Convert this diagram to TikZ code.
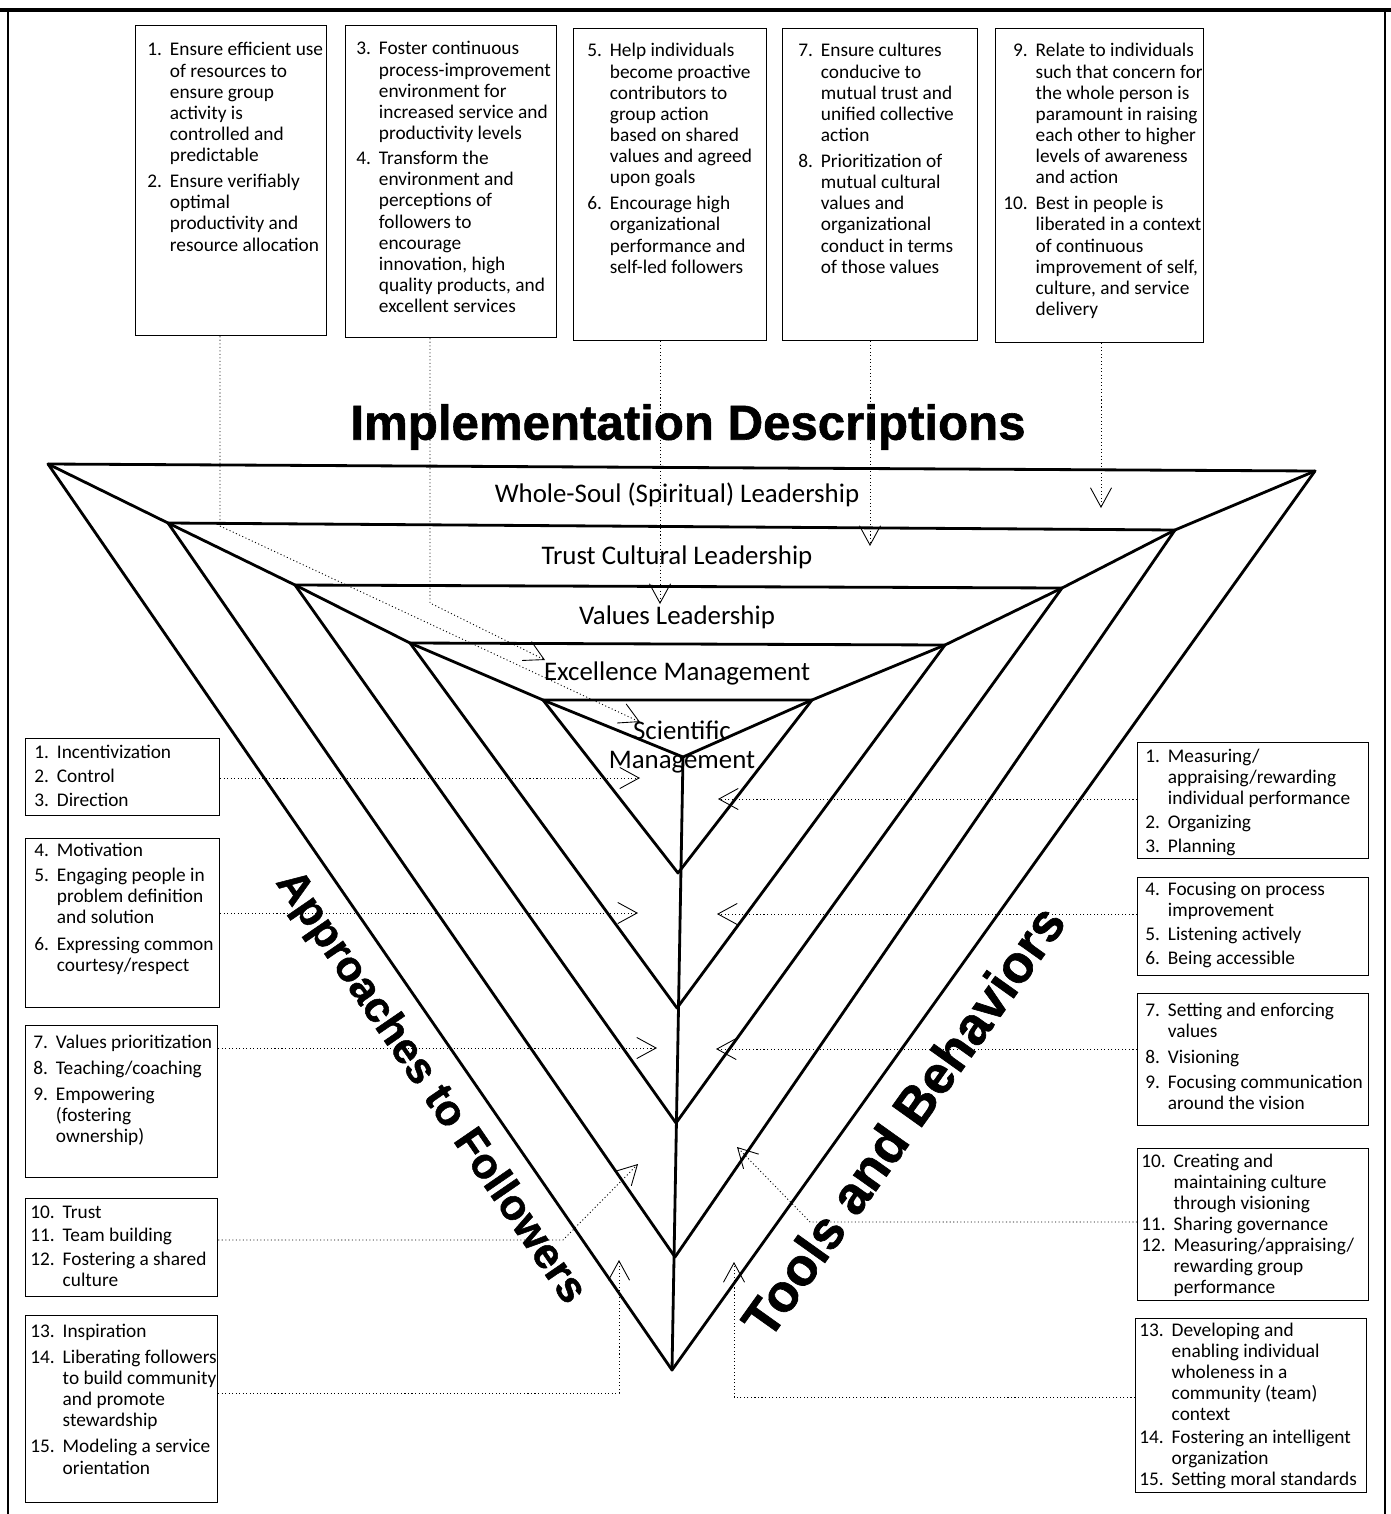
\documentclass[tikz,border=0pt]{standalone}
\usepackage{fontspec}
\setmainfont{Carlito}
\newfontfamily\headfont{Liberation Sans}[BoldFeatures={FakeBold=1.2}]
\usetikzlibrary{arrows.meta,calc}
\newenvironment{itemtab}{\begin{tabular}[t]{@{}r@{\hspace{4.5pt}}l@{}}}{\end{tabular}}

\begin{document}
\begin{tikzpicture}[x=0.02cm,y=-0.02cm,
  frame/.style={line width=1.1pt},
  tri/.style={line width=1.6pt, line join=round, line cap=round},
  box/.style 2 args={draw, line width=0.7pt, anchor=north west, inner sep=0pt,
    minimum width=#1*0.02cm, minimum height=#2*0.02cm},
  txt/.style={inner sep=0pt, anchor=base west, font=\fontsize{11}{12}\selectfont},
  lvl/.style={font=\fontsize{15.3}{16.5}\selectfont, inner sep=0pt},
  head/.style={font=\headfont\bfseries\fontsize{28}{30}\selectfont, inner sep=0pt},
  side/.style={font=\headfont\bfseries\fontsize{#1}{30}\selectfont, inner sep=0pt},
  link/.style={line width=0.5pt, dash pattern=on 0.6pt off 1.4pt,
    -{Straight Barb[length=11pt,width=12pt]}},
]
\useasboundingbox (0,0) rectangle (1391,1514);

% page frame
\draw[line width=2.8pt] (0,10) -- (1391,10);
\draw[frame] (8,10) -- (8,1514);
\draw[frame] (1385,10) -- (1385,1514);

% nested triangles: top-left, top-right and bottom corners
\coordinate (L1) at (48,464);   \coordinate (R1) at (1315,471);  \coordinate (B1) at (672,1370);
\coordinate (L2) at (168,523);  \coordinate (R2) at (1175,530);  \coordinate (B2) at (675,1257);
\coordinate (L3) at (295,585);  \coordinate (R3) at (1062,588);  \coordinate (B3) at (676,1123);
\coordinate (L4) at (410,643);  \coordinate (R4) at (945,645);   \coordinate (B4) at (677,1008);
\coordinate (L5) at (543,700);  \coordinate (R5) at (812,700);   \coordinate (B5) at (678,873);
\coordinate (C)  at (683,757);

\foreach \i in {1,...,5} { \draw[tri] (B\i) -- (L\i) -- (R\i) -- cycle; }
\draw[tri] (L1) -- (L2) -- (L3) -- (L4) -- (L5) -- (C) -- (R5) -- (R4) -- (R3) -- (R2) -- (R1);
\draw[tri] (C) -- (B1);

% level names
\node[lvl] (lv1) at (677,495) {Whole-Soul (Spiritual) Leadership};
\node[lvl] (lv2) at (677,557) {Trust Cultural Leadership};
\node[lvl] (lv3) at (677,617) {Values Leadership};
\node[lvl] (lv4) at (677,673) {Excellence Management};
\node[lvl, align=center] (lv5) at (682,747) {Scientific\\Management};

% headings
\node[head] (impl) at (688,427) {Implementation Descriptions};
\node[side=24.5, rotate=-55.5] (appr) at (430,1088) {Approaches to Followers};
\node[side=30, rotate=54.5] (tools) at (903,1121) {Tools and Behaviors};

% implementation description boxes
\node[box={191}{310}] (b1) at (135,25) {};
\node[txt] (t1) at ($(b1.north west)+(12,31)$) {\begin{itemtab}
1. & Ensure efficient use\\ & of resources to\\ & ensure group\\ & activity is\\ & controlled and\\ & predictable\\[3pt]
2. & Ensure verifiably\\ & optimal\\ & productivity and\\ & resource allocation
\end{itemtab}};

\node[box={211}{312}] (b2) at (345,25) {};
\node[txt] (t2) at ($(b2.north west)+(11,30)$) {\begin{itemtab}
3. & Foster continuous\\ & process-improvement\\ & environment for\\ & increased service and\\ & productivity levels\\[2.5pt]
4. & Transform the\\ & environment and\\ & perceptions of\\ & followers to\\ & encourage\\ & innovation, high\\ & quality products, and\\ & excellent services
\end{itemtab}};

\node[box={193}{312}] (b3) at (573,28) {};
\node[txt] (t3) at ($(b3.north west)+(14,29)$) {\begin{itemtab}
5. & Help individuals\\ & become proactive\\ & contributors to\\ & group action\\ & based on shared\\ & values and agreed\\ & upon goals\\[3pt]
6. & Encourage high\\ & organizational\\ & performance and\\ & self-led followers
\end{itemtab}};

\node[box={195}{312}] (b4) at (782,28) {};
\node[txt] (t4) at ($(b4.north west)+(16,29)$) {\begin{itemtab}
7. & Ensure cultures\\ & conducive to\\ & mutual trust and\\ & unified collective\\ & action\\[3pt]
8. & Prioritization of\\ & mutual cultural\\ & values and\\ & organizational\\ & conduct in terms\\ & of those values
\end{itemtab}};

\node[box={208}{314}] (b5) at (995,28) {};
\node[txt] (t5) at ($(b5.north west)+(8,29)$) {\begin{itemtab}
9. & Relate to individuals\\ & such that concern for\\ & the whole person is\\ & paramount in raising\\ & each other to higher\\ & levels of awareness\\ & and action\\[3pt]
10. & Best in people is\\ & liberated in a context\\ & of continuous\\ & improvement of self,\\ & culture, and service\\ & delivery
\end{itemtab}};

% approaches to followers
\node[box={194}{77}] (l1) at (25,738) {};
\node[txt] (tl1) at ($(l1.north west)+(9,20)$) {\begin{itemtab}
1. & Incentivization\\[1.8pt] 2. & Control\\[1.8pt] 3. & Direction
\end{itemtab}};

\node[box={194}{169}] (l2) at (25,838) {};
\node[txt] (tl2) at ($(l2.north west)+(9,18)$) {\begin{itemtab}
4. & Motivation\\[2.5pt]
5. & Engaging people in\\ & problem definition\\ & and solution\\[3.5pt]
6. & Expressing common\\ & courtesy/respect
\end{itemtab}};

\node[box={192}{152}] (l3) at (25,1025) {};
\node[txt] (tl3) at ($(l3.north west)+(8,23)$) {\begin{itemtab}
7. & Values prioritization\\[3pt]
8. & Teaching/coaching\\[3pt]
9. & Empowering\\ & (fostering\\ & ownership)
\end{itemtab}};

\node[box={192}{98}] (l4) at (25,1198) {};
\node[txt] (tl4) at ($(l4.north west)+(5,20)$) {\begin{itemtab}
10. & Trust\\[1.5pt]
11. & Team building\\[1.5pt]
12. & Fostering a shared\\ & culture
\end{itemtab}};

\node[box={192}{187}] (l5) at (25,1315) {};
\node[txt] (tl5) at ($(l5.north west)+(5,22)$) {\begin{itemtab}
13. & Inspiration\\[3pt]
14. & Liberating followers\\ & to build community\\ & and promote\\ & stewardship\\[3pt]
15. & Modeling a service\\ & orientation
\end{itemtab}};

% tools and behaviors
\node[box={231}{116}] (r1) at (1137,742) {};
\node[txt] (tr1) at ($(r1.north west)+(8,20)$) {\begin{itemtab}
1. & Measuring/\\ & appraising/rewarding\\ & individual performance\\[1.8pt]
2. & Organizing\\[1.8pt]
3. & Planning
\end{itemtab}};

\node[box={231}{98}] (r2) at (1137,877) {};
\node[txt] (tr2) at ($(r2.north west)+(8,18)$) {\begin{itemtab}
4. & Focusing on process\\ & improvement\\[2pt]
5. & Listening actively\\[1.5pt]
6. & Being accessible
\end{itemtab}};

\node[box={231}{132}] (r3) at (1137,993) {};
\node[txt] (tr3) at ($(r3.north west)+(8,23)$) {\begin{itemtab}
7. & Setting and enforcing\\ & values\\[3pt]
8. & Visioning\\[2pt]
9. & Focusing communication\\ & around the vision
\end{itemtab}};

\node[box={231}{152}] (r4) at (1137,1148) {};
\node[txt] (tr4) at ($(r4.north west)+(4,19)$) {\begin{itemtab}
10. & Creating and\\ & maintaining culture\\ & through visioning\\
11. & Sharing governance\\
12. & Measuring/appraising/\\ & rewarding group\\ & performance
\end{itemtab}};

\node[box={231}{174}] (r5) at (1135,1318) {};
\node[txt] (tr5) at ($(r5.north west)+(4,18)$) {\begin{itemtab}
13. & Developing and\\ & enabling individual\\ & wholeness in a\\ & community (team)\\ & context\\[1pt]
14. & Fostering an intelligent\\ & organization\\
15. & Setting moral standards
\end{itemtab}};

% connector bends and arrow tips
\coordinate (k1) at (220,526);  \coordinate (p1) at (640,722);
\coordinate (k2) at (430,603);  \coordinate (p2) at (545,660);
\coordinate (p3) at (660,604);
\coordinate (p4) at (870,546);
\coordinate (p5) at (1101,508);

\coordinate (pl1) at (640,778);
\coordinate (pl2) at (638,913);
\coordinate (pl3) at (657,1048);
\coordinate (kl4) at (563,1240); \coordinate (pl4) at (638,1164);
\coordinate (kl5) at (619,1393); \coordinate (pl5) at (619,1260);

\coordinate (pr1) at (718,799);
\coordinate (pr2) at (717,914);
\coordinate (pr3) at (716,1049);
\coordinate (kr4) at (810,1222); \coordinate (pr4) at (737,1147);
\coordinate (kr5) at (734,1397); \coordinate (pr5) at (734,1262);

\draw[link] (b1.south -| k1) -- (k1) -- (p1);
\draw[link] (b2.south -| k2) -- (k2) -- (p2);
\draw[link] (b3.south -| p3) -- (p3);
\draw[link] (b4.south -| p4) -- (p4);
\draw[link] (b5.south -| p5) -- (p5);

\draw[link] (l1.east |- pl1) -- (pl1);
\draw[link] (l2.east |- pl2) -- (pl2);
\draw[link] (l3.east |- pl3) -- (pl3);
\draw[link] (l4.east |- kl4) -- (kl4) -- (pl4);
\draw[link] (l5.east |- kl5) -- (kl5) -- (pl5);

\draw[link] (r1.west |- pr1) -- (pr1);
\draw[link] (r2.west |- pr2) -- (pr2);
\draw[link] (r3.west |- pr3) -- (pr3);
\draw[link] (r4.west |- kr4) -- (kr4) -- (pr4);
\draw[link] (r5.west |- kr5) -- (kr5) -- (pr5);
\end{tikzpicture}
\end{document}
